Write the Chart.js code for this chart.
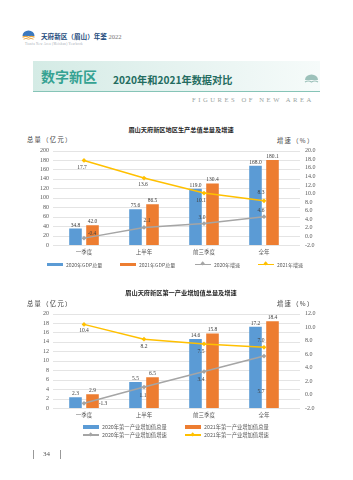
<!DOCTYPE html>
<html>
<head>
<meta charset="utf-8">
<script src="https://cdn.jsdelivr.net/npm/chart.js@4"></script>
<style>
  body { margin: 0; background: #fff; }
  #page { position: relative; width: 353px; height: 480px; overflow: hidden; background: #fff;
    font-family: "Noto Sans CJK SC", "Noto Sans", sans-serif; }
  .abs { position: absolute; white-space: nowrap; line-height: 1; }
  .banner { left: 33px; top: 61px; width: 287px; height: 30px;
    background: linear-gradient(90deg, #d4ebe5 0%, #e4f2ef 45%, #f6fbfa 100%);
    border-bottom: 1.5px solid #86c4b7; }
  .ctitle { font-size: 6.2px; font-weight: bold; color: #262626; transform: translateX(-50%); }
  .atitle { font-size: 6.3px; color: #404040; letter-spacing: 1.3px; }
  .leg { position: absolute; display: flex; align-items: center; font-size: 5px; color: #595959; white-space: nowrap; line-height: 1; }
  .sw { width: 16px; height: 3.5px; margin-right: 3px; position: relative; }
  .sw.line { height: 1.4px; }
  .sw.line i { position: absolute; left: 6px; top: -1.6px; width: 3.4px; height: 3.4px; transform: rotate(45deg); }
  canvas { position: absolute; }
</style>
</head>
<body>
<div id="page">
  <svg class="abs" style="left:22px;top:30px" width="13" height="11" viewBox="0 0 13 11">
    <path d="M0.5 6 A6 5.5 0 0 1 12.5 6 Z" fill="#3b79c0"/>
    <path d="M0.5 7.3 Q3.5 5.4 6.5 7.3 Q9.5 5.4 12.5 7.3" stroke="#e9a43b" stroke-width="1.1" fill="none"/>
    <path d="M1.5 9.2 Q4 7.6 6.5 9.2 Q9 7.6 11.5 9.2" stroke="#e9a43b" stroke-width="0.9" fill="none"/>
  </svg>
  <div class="abs" style="left:41px;top:32.5px;font-size:6.6px;font-weight:bold;color:#1d4b7c;font-family:'Noto Sans CJK SC'">天府新区（眉山）年鉴 <span style="font-weight:normal;color:#777;font-family:'Liberation Serif'">2022</span></div>
  <div class="abs" style="left:25px;top:42.5px;font-size:3px;color:#a0a8b0;letter-spacing:0.35px;font-family:'Liberation Serif'">Tianfu New Area (Meishan) Yearbook</div>

  <div class="abs banner"></div>
  <div class="abs" style="left:41px;top:69px;font-size:14px;font-weight:bold;color:#35a292">数字新区</div>
  <div class="abs" style="left:113px;top:74.5px;font-size:10.2px;font-weight:bold;color:#246c60">2020年和2021年数据对比</div>
  <svg class="abs" style="left:304px;top:74px" width="15" height="11" viewBox="0 0 15 11">
    <path d="M1 6 A6.5 5.5 0 0 1 14 6 Z" fill="#9cc1ba"/>
    <path d="M1 8 Q4.2 6 7.5 8 Q10.8 6 14 8" stroke="#9cc1ba" stroke-width="1.2" fill="none"/>
  </svg>
  <div class="abs" style="left:192px;top:97px;font-size:6.6px;letter-spacing:2.55px;color:#9aa4a2;font-family:'Liberation Serif'">FIGURES OF NEW AREA</div>

  <div class="abs ctitle" style="left:181px;top:127px">眉山天府新区地区生产总值总量及增速</div>
  <div class="abs atitle" style="left:27px;top:137px">总量（亿元）</div>
  <div class="abs atitle" style="left:277px;top:138px">增速（%）</div>
  <canvas id="c1" width="330" height="128" style="left:10px;top:136px"></canvas>
  <div id="leg1"></div>

  <div class="abs ctitle" style="left:181px;top:290px">眉山天府新区第一产业增加值总量及增速</div>
  <div class="abs atitle" style="left:27px;top:301px">总量（亿元）</div>
  <div class="abs atitle" style="left:277px;top:301px">增速（%）</div>
  <canvas id="c2" width="330" height="128" style="left:10px;top:299px"></canvas>
  <div id="leg2"></div>

  <div class="abs" style="left:33px;top:450px;width:0.8px;height:9px;background:#999"></div>
  <div class="abs" style="left:43px;top:451px;font-size:7px;color:#555;font-family:'Liberation Serif'">34</div>
  <div class="abs" style="left:60px;top:450px;width:0.8px;height:9px;background:#999"></div>
</div>
<script>
const categories = ['一季度', '上半年', '前三季度', '全年'];

// chart 1: GDP
const gdpNames = ['2020年GDP总量', '2021年GDP总量', '2020年增速', '2021年增速'];
const gdp2020 = [34.8, 75.6, 119.0, 168.0];
const gdp2021 = [42.0, 86.5, 130.4, 180.1];
const gdpRate2020 = [-0.4, 2.1, 3.0, 4.6];
const gdpRate2021 = [17.7, 13.6, 10.1, 8.3];

// chart 2: primary industry
const agriNames = ['2020年第一产业增加值总量', '2021年第一产业增加值总量', '2020年第一产业增加值增速', '2021年第一产业增加值增速'];
const agri2020 = [2.3, 5.5, 14.6, 17.2];
const agri2021 = [2.9, 6.5, 15.8, 18.4];
const agriRate2020 = [-1.3, 1.1, 3.4, 5.7];
const agriRate2021 = [10.4, 8.2, 7.5, 7.0];

const colors = ['#5b9bd5', '#ed7d31', '#a5a5a5', '#ffc000'];

// label offsets (dx, dy) for the line series, as placed in the source
const off1Grey = [[8, -5], [3, -7], [-2, -6], [-3, -6]];
const off1Yellow = [[-2, 7], [-1, 6.5], [-3, 7], [-3, -8]];
const off2Grey = [[19, 0], [-1, 8], [-3, 8], [-3, 35]];
const off2Yellow = [[0, 6.5], [0, 7], [-3, 8], [-3, -7]];

const gridLines = {
  id: 'gridLines',
  beforeDatasetsDraw(chart) {
    const { ctx, chartArea, scales } = chart;
    ctx.save();
    ctx.strokeStyle = '#d9d9d9';
    ctx.lineWidth = 0.7;
    scales.y.ticks.forEach(t => {
      const y = Math.round(scales.y.getPixelForValue(t.value)) + 0.5;
      ctx.beginPath();
      ctx.moveTo(chartArea.left - 1, y);
      ctx.lineTo(chartArea.right + 6, y);
      ctx.stroke();
    });
    ctx.restore();
  }
};

const valueLabels = {
  id: 'valueLabels',
  afterDatasetsDraw(chart) {
    const ctx = chart.ctx;
    ctx.save();
    ctx.font = '5.5px "Liberation Serif"';
    ctx.fillStyle = '#404040';
    ctx.textAlign = 'center';
    ctx.textBaseline = 'middle';
    chart.data.datasets.forEach((ds, i) => {
      const meta = chart.getDatasetMeta(i);
      meta.data.forEach((el, j) => {
        const o = ds.labelOffsets ? ds.labelOffsets[j] : [0, -3.5];
        ctx.fillText(ds.data[j].toFixed(1), el.x + o[0], el.y + o[1]);
      });
    });
    ctx.restore();
  }
};

function makeChart(id, names, bars1, bars2, rate1, rate2, leftMax, leftStep, rMin, rMax, offGrey, offYellow) {
  const tickFont = { family: 'Liberation Serif', size: 6 };
  const lineSet = (label, data, color, offs) => ({
    type: 'line', label, data, yAxisID: 'y1', order: 0,
    borderColor: color, backgroundColor: color, borderWidth: 1.5,
    pointStyle: 'rectRot', pointRadius: 2.4, pointBorderWidth: 0,
    tension: 0, labelOffsets: offs,
  });
  const barSet = (label, data, color) => ({
    type: 'bar', label, data, yAxisID: 'y', order: 1,
    backgroundColor: color, barPercentage: 0.74, categoryPercentage: 0.567,
  });
  return new Chart(document.getElementById(id), {
    data: {
      labels: categories,
      datasets: [
        barSet(names[0], bars1, colors[0]),
        barSet(names[1], bars2, colors[1]),
        lineSet(names[2], rate1, colors[2], offGrey),
        lineSet(names[3], rate2, colors[3], offYellow),
      ],
    },
    options: {
      responsive: false,
      animation: false,
      // the right axis' tick padding (11) pushes the plot top down to 14px
      layout: { padding: { top: 14, bottom: 5, left: 0, right: 0 } },
      plugins: { legend: { display: false }, tooltip: { enabled: false } },
      scales: {
        x: {
          grid: { display: false, drawTicks: false }, border: { display: false },
          ticks: { font: { family: 'Noto Sans CJK SC', size: 5.5 }, color: '#595959', padding: 4, maxRotation: 0, autoSkip: false },
          afterFit(s) { s.height = 14; },
        },
        y: {
          position: 'left', min: 0, max: leftMax,
          grid: { display: false, drawTicks: false }, border: { display: false },
          ticks: { stepSize: leftStep, autoSkip: false, font: tickFont, color: '#595959', padding: 5 },
          afterFit(s) { s.width = 44; },
        },
        y1: {
          position: 'right', min: rMin, max: rMax,
          grid: { display: false, drawTicks: false }, border: { display: false },
          ticks: { stepSize: 2, autoSkip: false, font: tickFont, color: '#595959', padding: 11, callback: v => v.toFixed(1) },
          afterFit(s) { s.width = 46; },
        },
      },
    },
    plugins: [gridLines, valueLabels],
  });
}

function makeLegend(id, names, spots) {
  const box = document.getElementById(id);
  names.forEach((n, i) => {
    const d = document.createElement('div');
    d.className = 'leg';
    d.style.left = spots[i][0] + 'px';
    d.style.top = spots[i][1] + 'px';
    d.style.fontSize = spots[i][2] + 'px';
    const sw = i < 2
      ? `<span class="sw" style="background:${colors[i]}"></span>`
      : `<span class="sw line" style="background:${colors[i]}"><i style="background:${colors[i]}"></i></span>`;
    d.innerHTML = sw + '<span>' + n + '</span>';
    box.appendChild(d);
  });
}

makeChart('c1', gdpNames, gdp2020, gdp2021, gdpRate2020, gdpRate2021, 200, 20, -2, 20, off1Grey, off1Yellow);
makeChart('c2', agriNames, agri2020, agri2021, agriRate2020, agriRate2021, 20, 2, -2, 12, off2Grey, off2Yellow);

makeLegend('leg1', gdpNames, [[47, 262, 5], [120, 262, 5], [195, 262, 5], [258, 262, 5]]);
makeLegend('leg2', agriNames, [[83, 424.5, 5.3], [185, 424.5, 5.3], [83, 432.5, 5.3], [185, 432.5, 5.3]]);
</script>
</body>
</html>
